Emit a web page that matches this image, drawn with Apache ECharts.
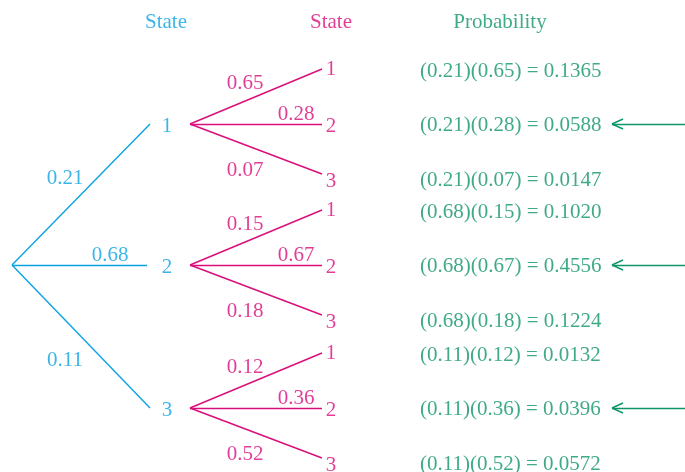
<!DOCTYPE html>
<html>
<head>
<meta charset="utf-8">
<script src="https://cdn.jsdelivr.net/npm/echarts@6/dist/echarts.min.js"></script>
<style>html,body{margin:0;padding:0;background:#fff}#c{width:685px;height:472px}</style>
</head>
<body>
<div id="c"></div>
<script>
// ---- data ----
const firstProbs = [0.21, 0.68, 0.11];
const secondProbs = [[0.65, 0.28, 0.07], [0.15, 0.67, 0.18], [0.12, 0.36, 0.52]];
const products = [[0.1365, 0.0588, 0.0147], [0.1020, 0.4556, 0.1224], [0.0132, 0.0396, 0.0572]];
const stateLabels = ['1', '2', '3'];
const headers = ['State', 'State', 'Probability'];
const highlightedSecond = [1, 1, 1]; // index of the marked branch in each group

// ---- layout ----
const BLUE = '#0BA2E4', MAGENTA = '#DA0E7A', GREEN = '#0F9568';
const FONT = 'Liberation Serif';
const FS = 21;
const TDY = 2; // vertical text nudge
const root = [12, 265];
const l1EndX = 150, l1LabelX = 167;
const l1Y = [124, 265, 408];
const l2StartX = 190, l2EndX = 322, l2LabelX = 331;
const l2EndOff = [-55, 0, 50];
const l2LabelOff = [-57, 0, 55];
const prodOff = [-55, -1, 54];
const prodX = 420;
const headerY = 20, headerX = [166, 331, 500];
const l1ProbPos = [[65, 176], [110, 253], [65, 358]];
const l2ProbOff = [[55, -43], [106, -12], [55, 44]];
const arrowTipX = 612, arrowEndX = 685;

const blueLines = [], magLines = [], greenLines = [];
const blueText = [], magText = [], greenText = [], prodText = [];

firstProbs.forEach((p, i) => {
  blueLines.push({ coords: [root, [i === 1 ? 147 : l1EndX, l1Y[i]]] });
  blueText.push({ value: [l1LabelX, l1Y[i] + TDY], name: stateLabels[i] });
  blueText.push({ value: [l1ProbPos[i][0], l1ProbPos[i][1] + TDY], name: p.toFixed(2) });
  secondProbs[i].forEach((q, j) => {
    const y0 = l1Y[i];
    magLines.push({ coords: [[l2StartX, y0], [l2EndX, y0 + l2EndOff[j]]] });
    magText.push({ value: [l2LabelX, y0 + l2LabelOff[j] + TDY], name: stateLabels[j] });
    magText.push({ value: [l2StartX + l2ProbOff[j][0], y0 + l2ProbOff[j][1] + TDY], name: q.toFixed(2) });
    const py = y0 + prodOff[j];
    prodText.push({ value: [prodX, py + TDY], name: '(' + p.toFixed(2) + ')(' + q.toFixed(2) + ') = ' + products[i][j].toFixed(4) });
    if (highlightedSecond[i] === j) {
      const ay = y0;
      greenLines.push({ coords: [[arrowTipX, ay], [arrowEndX, ay]] });
      greenLines.push({ coords: [[arrowTipX, ay], [arrowTipX + 11, ay - 5]] });
      greenLines.push({ coords: [[arrowTipX, ay], [arrowTipX + 11, ay + 5]] });
    }
  });
});
blueText.push({ value: [headerX[0], headerY + TDY], name: headers[0] });
magText.push({ value: [headerX[1], headerY + TDY], name: headers[1] });
greenText.push({ value: [headerX[2], headerY + TDY], name: headers[2] });

function textSeries(data, color, align) {
  return {
    type: 'scatter', symbolSize: 0, data: data, silent: true,
    label: { show: true, position: 'inside', formatter: d => d.name, color: color,
      fontFamily: FONT, fontSize: FS, align: align || 'center', verticalAlign: 'middle' }
  };
}
function lineSeries(data, color) {
  return { type: 'lines', coordinateSystem: 'cartesian2d', data: data, silent: true,
    lineStyle: { color: color, width: 1.4, opacity: 1 } };
}

const chart = echarts.init(document.getElementById('c'));
chart.setOption({
  animation: false,
  grid: { left: 0, right: 0, top: 0, bottom: 0 },
  xAxis: { type: 'value', min: 0, max: 685, show: false },
  yAxis: { type: 'value', min: 0, max: 472, inverse: true, show: false },
  series: [
    lineSeries(blueLines, BLUE),
    lineSeries(magLines, MAGENTA),
    lineSeries(greenLines, GREEN),
    textSeries(blueText, BLUE),
    textSeries(magText, MAGENTA),
    textSeries(greenText, GREEN),
    textSeries(prodText, GREEN, 'left')
  ]
});
</script>
</body>
</html>
